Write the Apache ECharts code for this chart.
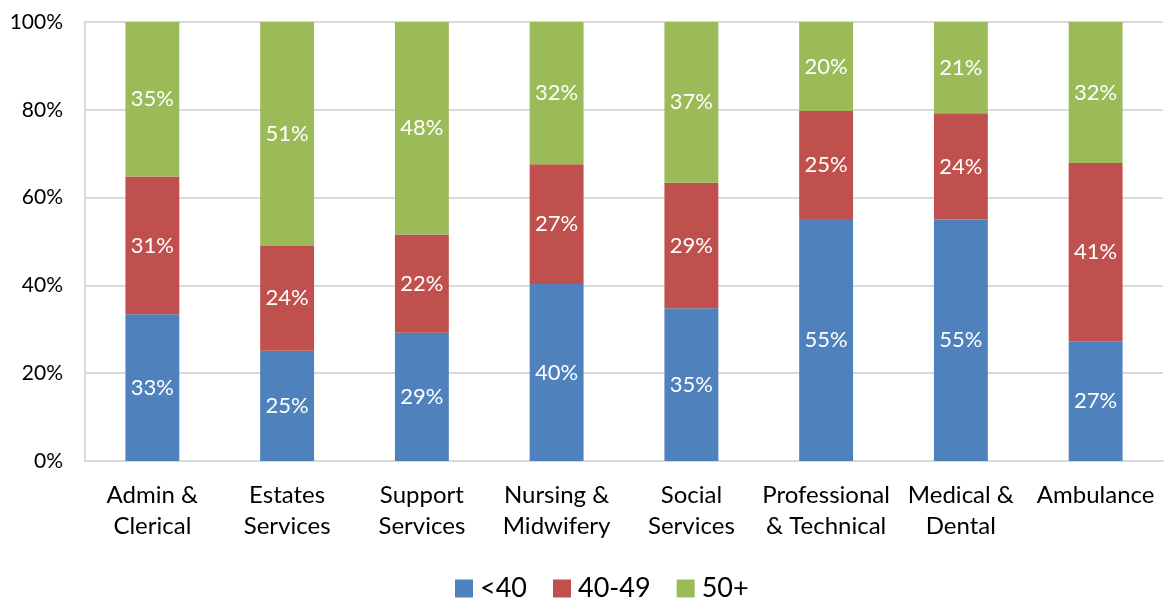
<!DOCTYPE html>
<html>
<head>
<meta charset="utf-8">
<script src="https://cdn.jsdelivr.net/npm/echarts@6/dist/echarts.min.js"></script>
<style>
  html, body { margin: 0; padding: 0; background: #fff; }
  #chart { width: 1164px; height: 599px; }
</style>
</head>
<body>
<div id="chart"></div>
<script>
const categories = ['Admin &\nClerical', 'Estates\nServices', 'Support\nServices', 'Nursing &\nMidwifery',
  'Social\nServices', 'Professional\n& Technical', 'Medical &\nDental', 'Ambulance'];
const under40 = [33.4, 25.1, 29.2, 40.3, 34.8, 55.1, 55.0, 27.3];
const age40to49 = [31.4, 23.9, 22.4, 27.3, 28.6, 24.6, 24.2, 40.6];
const over50 = [35.2, 51.0, 48.4, 32.4, 36.6, 20.3, 20.8, 32.1];

const font = 'Lato, "Open Sans", sans-serif';

function barSeries(name, data, color) {
  return {
    name: name,
    type: 'bar',
    stack: 'total',
    barWidth: '40%',
    data: data,
    itemStyle: { color: color },
    label: {
      show: true,
      position: 'inside',
      color: '#fff',
      fontSize: 22,
      fontFamily: font,
      formatter: p => Math.round(p.value) + '%'
    }
  };
}

const chart = echarts.init(document.getElementById('chart'));
chart.setOption({
  animation: false,
  backgroundColor: '#fff',
  grid: { left: 85, right: 1, top: 22, bottom: 138 },
  legend: {
    top: 570,
    left: 450,
    itemWidth: 18,
    itemHeight: 18,
    itemGap: 26,
    icon: 'rect',
    textStyle: { fontSize: 27, fontFamily: font, color: '#000', padding: [0, 0, 0, 2] },
    data: ['<40', '40-49', '50+']
  },
  xAxis: {
    type: 'category',
    data: categories,
    axisLine: { lineStyle: { color: '#d9d9d9', width: 2 } },
    axisTick: { show: false },
    axisLabel: {
      interval: 0,
      margin: 19,
      fontSize: 24,
      lineHeight: 31,
      color: '#000',
      fontFamily: font
    }
  },
  yAxis: {
    type: 'value',
    min: 0,
    max: 100,
    interval: 20,
    axisLine: { show: true, lineStyle: { color: '#d9d9d9', width: 2 } },
    axisTick: { show: false },
    splitLine: { lineStyle: { color: '#d9d9d9', width: 2 } },
    axisLabel: {
      margin: 22,
      fontSize: 21,
      color: '#000',
      fontFamily: font,
      formatter: '{value}%'
    }
  },
  series: [
    barSeries('<40', under40, '#4f81bd'),
    barSeries('40-49', age40to49, '#c0504d'),
    barSeries('50+', over50, '#9bbb59')
  ]
});
</script>
</body>
</html>
